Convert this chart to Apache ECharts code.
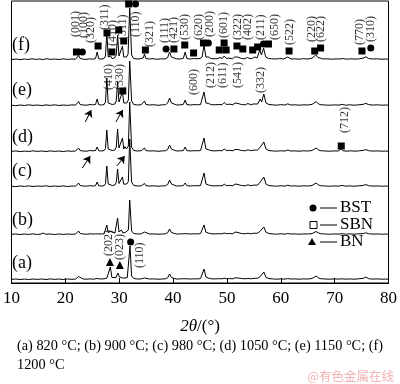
<!DOCTYPE html>
<html><head><meta charset="utf-8">
<script src="https://cdn.jsdelivr.net/npm/echarts@6/dist/echarts.min.js"></script>
<style>html,body{margin:0;padding:0;background:#fff}#c{width:400px;height:384px}</style>
</head><body><div id="c"></div>
<script>
// sample names (bottom to top)
const sampleNames = ['(a)','(b)','(c)','(d)','(e)','(f)'];
// vertical offsets of each pattern (plot units)
const offsets = [3, 48, 96, 131, 177, 223];
// patterns: [2theta, intensity above baseline]
const patA = [[10,0.6],[10.8,1],[11.6,0.5],[12.4,0.9],[13.2,0.5],[14,1],[14.8,0.6],[15.6,1],[16.4,0.5],[17.2,1.1],[18,0.6],[18.8,1],[19.6,0.5],[20.4,1],[21.2,0.7],[21.9,1],[22.2,2],[22.45,3.5],[22.75,1.5],[23.3,1],[24,0.8],[24.6,1.1],[25.2,0.8],[25.9,1.5],[26.6,1],[27.2,1.2],[27.7,1.8],[28.05,2.5],[28.35,13],[28.65,2.5],[29,2],[29.4,2.5],[29.75,7],[30.05,3],[30.3,5],[30.6,2],[31.1,2],[31.5,2.5],[31.75,4],[32.0,34],[32.3,4],[32.7,1.5],[33.4,1],[34.1,1.1],[34.45,1.4],[34.7,2],[34.95,1.2],[35.6,1],[36.4,1.1],[37.2,0.8],[38,1],[38.6,1.2],[39,2.2],[39.35,6],[39.7,2.5],[40.2,1.5],[40.7,1],[41.4,1.1],[41.9,1.3],[42.25,2.2],[42.55,1.2],[43.2,1],[43.8,1.2],[44.15,1.5],[44.5,1.1],[45.1,1.4],[45.45,3],[45.75,11],[46.1,3],[46.6,1.8],[47.1,1.2],[47.8,1.1],[48.5,1.3],[49.1,1.2],[49.5,1.8],[49.9,1.3],[50.5,1.4],[51.1,1.2],[51.5,2.2],[51.8,3],[52.05,2],[52.35,3],[52.7,1.5],[53.4,1.2],[53.9,1.6],[54.4,1.2],[54.9,1.6],[55.25,2.2],[55.7,1.8],[56.2,3.5],[56.45,3],[56.85,8],[57.25,2.8],[57.8,1.4],[58.5,1.1],[59.2,0.8],[60,1.1],[60.8,0.9],[61.3,1.4],[61.8,1],[62.6,1.1],[63.4,0.8],[64.2,1.1],[65,1],[65.8,1.5],[66.55,4],[67,2],[67.5,1.2],[68.3,1],[69.1,0.8],[70,1.1],[70.8,0.9],[71.4,1.2],[72,0.8],[72.8,1.1],[73.6,0.8],[74.5,1.2],[75.3,1.6],[75.8,3],[76.3,1.3],[77.1,0.9],[77.9,1.1],[78.7,0.8],[79.4,1],[80,0.7]];
const patB = [[10,0.7],[10.8,1],[11.6,0.5],[12.4,1],[13.2,0.6],[14,1.1],[14.8,0.5],[15.5,1],[15.9,2],[16.3,0.8],[17.2,1],[18,0.5],[18.8,1],[19.6,0.6],[20.4,1],[21.2,0.7],[21.9,1],[22.2,2],[22.45,4],[22.75,1.5],[23.3,1],[24,0.8],[24.6,1.2],[25.2,0.9],[25.6,1.2],[25.9,3],[26.2,1.1],[26.7,1],[27.2,1.3],[27.45,2.5],[27.7,10],[27.95,2.5],[28.2,2],[28.4,3.5],[28.65,1.5],[29.2,2],[29.45,4],[29.7,17],[29.95,3],[30.2,2.5],[30.4,5],[30.7,2],[31.1,2.5],[31.4,2.5],[31.7,5],[31.95,35],[32.3,4],[32.7,1.5],[33.4,1],[34.1,1.2],[34.45,1.6],[34.7,3],[34.95,1.3],[35.6,1],[36.4,1.1],[37.2,0.8],[38,1],[38.6,1.2],[39,2.3],[39.35,6],[39.7,2.5],[40.2,1.6],[40.7,1],[41.4,1.1],[41.9,1.3],[42.25,3],[42.55,1.3],[43.2,1],[43.8,1.2],[44.15,1.8],[44.5,1.1],[45.1,1.4],[45.45,2.8],[45.75,10],[46.1,2.8],[46.6,1.8],[47.1,1.2],[47.8,1.1],[48.5,1.3],[49.1,1.2],[49.5,2],[49.9,1.3],[50.5,1.5],[51.1,1.2],[51.5,3],[51.8,5],[52.05,2.5],[52.35,4],[52.7,1.5],[53.4,1.2],[53.9,1.8],[54.4,1.2],[54.9,1.7],[55.25,2.4],[55.7,1.8],[56.2,4],[56.45,3.5],[56.85,8],[57.25,2.8],[57.8,1.4],[58.5,1.1],[59.2,0.8],[60,1.2],[60.8,0.9],[61.3,1.5],[61.8,1],[62.6,1.1],[63.4,0.8],[64.2,1.1],[65,1],[65.8,1.4],[66.55,3.5],[67,2],[67.5,1.2],[68.3,1],[69.1,0.8],[70,1.1],[70.8,0.9],[71.4,1.3],[72,0.8],[72.8,1.1],[73.6,0.8],[74.5,1.2],[75.3,1.5],[75.8,2.2],[76.3,1.3],[77.1,0.9],[77.9,1.1],[78.7,0.8],[79.4,1],[80,0.7]];
const patC = [[10,0.8],[10.8,0.4],[11.6,1],[12.4,0.6],[13.2,1.1],[14,0.5],[14.8,1],[15.6,0.7],[16.4,1.2],[17.2,0.5],[18,1],[18.8,0.6],[19.6,1.1],[20.4,0.5],[21.2,1],[21.9,0.8],[22.2,2],[22.45,4],[22.75,1.5],[23.3,1],[24,0.9],[24.6,1.3],[25.2,0.9],[25.6,1.3],[25.9,5],[26.2,1.2],[26.7,1],[27.2,1.3],[27.45,3.5],[27.7,21],[27.95,3],[28.3,2.5],[28.7,1.5],[29.2,2],[29.45,4.5],[29.7,18],[29.95,3.5],[30.3,2.8],[30.6,10],[30.85,2.8],[31.1,4],[31.4,3],[31.7,5.5],[31.95,48],[32.3,5],[32.7,1.5],[33.4,1],[34.1,1.2],[34.45,1.8],[34.7,3.5],[34.95,1.4],[35.6,1],[36.4,1.2],[37.2,0.8],[38,1.1],[38.6,1.3],[39,2.5],[39.35,7],[39.7,3],[40.2,1.8],[40.7,1],[41.4,1.1],[41.9,1.4],[42.25,4],[42.55,1.4],[43.2,1],[43.8,1.3],[44.15,2.2],[44.5,1.2],[45.1,1.5],[45.45,3],[45.75,14],[46.1,3],[46.6,2],[47.1,1.3],[47.8,1.1],[48.5,1.3],[49.1,1.2],[49.5,2.8],[49.9,1.4],[50.5,1.6],[51.1,1.2],[51.5,3],[51.8,5],[52.05,2.5],[52.35,4],[52.7,1.5],[53.4,1.2],[53.9,2.2],[54.4,1.3],[54.9,1.8],[55.25,2.6],[55.7,1.9],[56.2,5],[56.45,3.5],[56.85,10],[57.25,3],[57.8,1.4],[58.5,1.1],[59.2,0.8],[60,1.2],[60.8,0.9],[61.3,1.8],[61.8,1],[62.6,1.1],[63.4,0.8],[64.2,1.2],[65,1],[65.8,1.5],[66.55,4],[67,2],[67.5,1.2],[68.3,1],[69.1,0.8],[70,1.1],[70.8,0.9],[71.4,1.6],[72,0.8],[72.8,1.1],[73.6,0.8],[74.5,1.2],[75.3,1.6],[75.8,2.4],[76.3,1.3],[77.1,0.9],[77.9,1.1],[78.7,0.8],[79.4,1],[80,0.7]];
const patD = [[10,0.6],[10.8,1.1],[11.6,0.4],[12.4,0.9],[13.2,0.5],[14,1.2],[14.8,0.6],[15.6,1],[16.4,0.5],[17.2,1.1],[18,0.6],[18.8,1],[19.6,0.5],[20.4,1.1],[21.2,0.7],[21.9,1],[22.2,2],[22.45,4],[22.75,1.5],[23.3,1],[24,0.8],[24.5,1.5],[24.75,3],[25,1.2],[25.6,1.4],[25.9,5],[26.2,1.3],[26.7,1],[27.2,1.4],[27.45,3.5],[27.7,22],[27.95,3],[28.3,2.5],[28.7,1.5],[29.2,2],[29.45,5],[29.7,23],[29.95,4],[30.3,3],[30.6,14],[30.85,3],[31.05,5.5],[31.35,3],[31.7,6],[31.95,50],[32.3,5],[32.7,1.5],[33.4,1],[34.1,1.3],[34.45,2],[34.7,4],[34.95,1.5],[35.6,1],[36.4,1.2],[37.2,0.7],[38,1.1],[38.6,1.3],[39,2.5],[39.35,7],[39.7,3],[40.2,1.8],[40.7,1],[41.4,1.2],[41.9,1.5],[42.25,5],[42.55,1.5],[43.2,1],[43.8,1.3],[44.15,2.5],[44.5,1.2],[45.1,1.5],[45.45,3],[45.75,14],[46.1,3],[46.6,2.2],[47.1,1.3],[47.8,1.1],[48.5,1.4],[49.1,1.2],[49.5,3],[49.9,1.4],[50.5,1.6],[51.1,1.2],[51.5,2.5],[51.8,4],[52.05,2.5],[52.35,3.5],[52.7,1.5],[53.4,1.2],[53.9,2.2],[54.4,1.3],[54.9,1.8],[55.25,2.8],[55.7,2],[56.2,5],[56.45,3.5],[56.85,10],[57.25,3],[57.8,1.4],[58.5,1.1],[59.2,0.8],[60,1.2],[60.8,1],[61.3,2],[61.8,1],[62.6,1.1],[63.4,0.8],[64.2,1.2],[65,1],[65.8,1.5],[66.55,4],[67,2],[67.5,1.2],[68.3,1],[69.1,0.8],[70,1.1],[70.7,1],[71.2,3],[71.6,1.2],[72.3,0.8],[73,1.2],[73.8,0.8],[74.6,1.2],[75.3,1.6],[75.8,2.4],[76.3,1.3],[77.1,0.9],[77.9,1.1],[78.7,0.8],[79.4,1],[80,0.7]];
const patE = [[10,0.8],[10.8,0.3],[11.6,1],[12.4,0.5],[13.2,1.2],[14,0.6],[14.8,1],[15.6,0.4],[16.4,1.1],[17.2,0.6],[18,1.2],[18.8,0.5],[19.6,1],[20.4,0.6],[21.2,1.1],[21.9,0.9],[22.2,2],[22.45,4.5],[22.75,1.5],[23.3,1],[24,0.8],[24.6,1.5],[24.8,2.8],[25.05,1.2],[25.6,1.4],[25.9,7],[26.2,1.3],[26.7,1],[27.2,1.5],[27.45,4],[27.7,28],[27.95,3],[28.3,2.5],[28.7,1.5],[29.2,2],[29.45,5],[29.7,24],[29.95,4],[30.3,3],[30.6,14],[30.85,3],[31.1,4.5],[31.4,3],[31.7,6],[31.95,45],[32.3,5],[32.7,1.5],[33.4,1],[34.1,1.3],[34.45,2],[34.7,5],[34.95,1.5],[35.6,1],[36.4,1.3],[37.2,0.7],[38,1.2],[38.6,1.3],[39,3],[39.35,8],[39.7,3],[40.2,2],[40.7,1],[41.4,1.2],[41.9,1.6],[42.25,6],[42.55,1.5],[43.2,1],[43.8,1.4],[44.15,2.5],[44.5,1.2],[45.1,1.5],[45.45,3],[45.75,14],[46.1,3],[46.6,2.5],[47.1,1.3],[47.8,1.2],[48.5,1.5],[49.1,1.3],[49.5,3.5],[49.9,1.5],[50.5,1.8],[51.1,1.2],[51.5,3],[51.8,4.5],[52.05,2.5],[52.35,4],[52.7,1.5],[53.4,1.2],[53.9,2.5],[54.4,1.3],[54.9,2],[55.25,3],[55.7,2],[56.2,7],[56.45,4],[56.85,12],[57.25,3],[57.8,1.5],[58.5,1.2],[59.2,0.8],[60,1.3],[60.8,1],[61.3,2.2],[61.8,1],[62.6,1.2],[63.4,0.8],[64.2,1.2],[65,1],[65.8,1.6],[66.55,4.5],[67,2],[67.5,1.2],[68.3,1],[69.1,0.8],[70,1.1],[70.8,0.9],[71.4,1.6],[72,0.8],[72.8,1.2],[73.6,0.8],[74.5,1.2],[75.3,1.7],[75.8,2.6],[76.3,1.4],[77.1,0.9],[77.9,1.2],[78.7,0.8],[79.4,1],[80,0.8]];
const patF = [[10,0.5],[11,1],[11.6,0.3],[12.4,1],[13,0.5],[13.8,1.2],[14.5,0.6],[15.2,1],[15.8,0.4],[16.5,1.3],[17.2,0.6],[18,1],[18.8,0.5],[19.6,1.1],[20.4,0.6],[21.2,1],[21.9,0.8],[22.2,2],[22.45,4.5],[22.75,1.5],[23.2,1],[23.8,0.5],[24.5,1.2],[25.1,0.8],[25.6,1.4],[25.9,8],[26.2,1.2],[26.6,0.9],[27.2,1.5],[27.45,4],[27.7,28],[27.95,3],[28.2,2],[28.4,4],[28.65,1.5],[29.1,2],[29.45,5],[29.7,25],[29.95,4],[30.3,3],[30.6,14],[30.85,3],[31.1,5],[31.35,3],[31.65,6],[31.95,52],[32.3,5],[32.7,1.5],[33.3,1],[34,1.3],[34.45,2],[34.7,6],[34.95,1.5],[35.6,1],[36.3,1.3],[37,0.7],[37.8,1.2],[38.5,1],[39,2.5],[39.35,8],[39.7,3],[40.2,2],[40.6,1.2],[41.3,1],[41.9,1.6],[42.25,8],[42.55,1.5],[43.2,1],[43.8,1.5],[44.1,3.5],[44.4,1.2],[45,1.5],[45.4,3],[45.75,15],[46.1,3],[46.6,3],[47,1.5],[47.6,1.2],[48.3,1.5],[48.7,2.5],[49.1,1.5],[49.5,4],[49.9,1.5],[50.4,2],[51,1.2],[51.45,3],[51.75,5],[52,3],[52.3,4.5],[52.7,1.5],[53.3,1.2],[53.8,2.5],[54.3,1.3],[54.8,1.8],[55.2,3],[55.6,2],[56.1,10],[56.4,5],[56.8,12],[57.2,3],[57.7,1.5],[58.3,1.2],[59,1],[59.8,1.4],[60.5,1],[61.3,3],[61.9,1],[62.6,1.2],[63.4,0.8],[64.2,1.3],[65,1],[65.8,1.8],[66.5,5],[66.9,2.5],[67.3,2],[67.8,1],[68.6,1.2],[69.4,0.8],[70.2,1.1],[71,1],[71.4,1.5],[72.2,0.8],[73,1.2],[73.8,0.9],[74.6,1.2],[75.3,1.8],[75.8,3.2],[76.3,1.5],[77,1],[77.8,1.2],[78.6,0.8],[79.4,1],[80,0.8]];
const patterns = [patA, patB, patC, patD, patE, patF];

// phase markers: [2theta, y]
const bstMarks = [[23.16,231],[33.03,279],[38.70,234],[46.56,240],[56.79,239],[76.71,235],[32.12,41]];
const sbnMarks = [[22.06,231],[26.08,237],[27.73,250],[28.64,231],[29.92,253],[30.84,242],[31.75,279],[34.86,233],[40.16,234],[42.17,238],[43.81,230],[45.64,240],[48.57,233],[49.48,240],[49.85,233],[51.86,237],[52.95,234],[54.78,233],[55.69,236],[57.71,239],[61.54,232],[66.30,232],[67.39,235],[75.07,232],[30.66,192],[71.23,137]];
const bnMarks = [[28.28,21],[30.11,18]];
// Miller index labels: [2theta, y of text start, text]
const hklLabels = [
 [21.9,246,'(001)'],[23.35,245,'(100)'],[24.65,240,'(320)'],[27.4,253,'(311)'],[28.85,237,'(410)'],[30.65,243,'(311)'],[33.0,246,'(110)'],[35.6,236,'(321)'],[38.5,240,'(111)'],[40.16,240,'(421)'],[42.17,243,'(530)'],[44.7,243,'(620)'],[46.9,246,'(200)'],[49.5,245,'(601)'],[52.05,243,'(322)'],[53.9,243,'(402)'],[56.25,243,'(211)'],[58.95,243,'(650)'],[61.72,238,'(522)'],[65.75,241,'(220)'],[67.4,241,'(622)'],[74.7,238,'(770)'],[76.71,241,'(310)'],
 [43.8,188,'(600)'],[47.1,195,'(212)'],[49.3,195,'(611)'],[52.05,195,'(541)'],[56.25,190,'(332)'],
 [28.1,193,'(410)'],[30.1,193,'(330)'],
 [71.96,150,'(712)'],
 [28.1,27,'(202)'],[30.1,23,'(023)'],[33.76,15,'(110)']
];
// arrows marking weak peaks: [x1,y1,x2,y2]
const arrows = [[23.71,161,24.81,173],[29.38,161,30.65,173],[23.16,115,24.62,127],[29.56,117,31.02,127]];
const caption1 = '(a) 820 °C; (b) 900 °C; (c) 980 °C; (d) 1050 °C; (e) 1150 °C; (f)';
const caption2 = '1200 °C';
const sampleLabelY = [264, 221, 172, 138, 91, 46];

const chart = echarts.init(document.getElementById('c'), null, {renderer:'canvas'});
const serif = '"Liberation Serif","Times New Roman",serif';
const series = patterns.map((p, i) => ({
  type:'line', data: p.map(d => [d[0], d[1] + offsets[i]]), showSymbol:false, symbol:'none',
  lineStyle:{color:'#000', width:1}, silent:true, z:2, clip:true
}));
series[0].markLine = {
  silent:true, symbol:['none','arrow'], symbolSize:7, animation:false,
  lineStyle:{color:'#000', width:1, type:'solid'}, label:{show:false},
  data: arrows.map(a => [{coord:[a[0],a[1]]},{coord:[a[2],a[3]]}])
};
const mk = {color:'#000', opacity:1};
series.push({type:'scatter', data:bstMarks, symbol:'circle', symbolSize:7, itemStyle:mk, silent:true, z:5});
series.push({type:'scatter', data:sbnMarks, symbol:'rect', symbolSize:7, itemStyle:mk, silent:true, z:5});
series.push({type:'scatter', data:bnMarks, symbol:'triangle', symbolSize:8, itemStyle:mk, silent:true, z:5});
series.push({type:'scatter', silent:true, z:6, symbolSize:0.1, itemStyle:{color:'rgba(0,0,0,0)'},
  data: hklLabels.map(l => ({value:[l[0], l[1]], name:l[2]})),
  label:{show:true, position:'inside', rotate:90, align:'left', verticalAlign:'middle',
    formatter: p => p.name, color:'#000', fontFamily:serif, fontSize:12}
});

const graphics = sampleNames.map((s, i) => ({type:'text', left:12, top:sampleLabelY[i]-10,
  style:{text:s, font:'18px '+serif, fill:'#000'}}));
const legendItems = [['BST',208,'circle'],['SBN',225,'square'],['BN',242,'tri']];
legendItems.forEach(it => {
  const y = it[1];
  if (it[2]==='circle') graphics.push({type:'circle', shape:{cx:313, cy:y, r:3.5}, style:{fill:'#000'}});
  if (it[2]==='square') graphics.push({type:'rect', shape:{x:310, y:y-3.5, width:7, height:7}, style:{fill:'#fff', stroke:'#000', lineWidth:1}});
  if (it[2]==='tri') graphics.push({type:'polygon', shape:{points:[[312,y-4],[316,y+3],[308,y+3]]}, style:{fill:'#000'}});
  graphics.push({type:'line', shape:{x1:320, y1:y, x2:337, y2:y}, style:{stroke:'#000', lineWidth:1}});
  graphics.push({type:'text', left:340, top:y-9, style:{text:it[0], font:'17px '+serif, fill:'#000'}});
});
graphics.push({type:'text', left:17, top:339, style:{text:caption1, font:'14.3px '+serif, fill:'#000'}});
graphics.push({type:'text', left:17, top:358, style:{text:caption2, font:'14.3px '+serif, fill:'#000'}});
graphics.push({type:'text', right:6, top:370, style:{text:'@有色金属在线', font:'12.5px "Noto Sans CJK SC",sans-serif', fill:'#f2b3b3'}});

chart.setOption({
  animation:false,
  backgroundColor:'#fff',
  grid:{left:7, right:9, top:1, bottom:101, show:true, borderColor:'#000', borderWidth:1, containLabel:false},
  xAxis:{type:'value', min:10, max:80, interval:10,
    axisLine:{lineStyle:{color:'#000', width:1}}, axisTick:{inside:true, length:5, lineStyle:{color:'#000'}},
    splitLine:{show:false},
    axisLabel:{color:'#000', fontFamily:serif, fontSize:17, margin:7},
    name:'{i|2θ}{n|/(°)}', nameLocation:'middle', nameGap:35,
    nameTextStyle:{rich:{i:{fontFamily:serif, fontSize:17, fontStyle:'italic', color:'#000'}, n:{fontFamily:serif, fontSize:17, color:'#000'}}}
  },
  yAxis:{type:'value', min:0, max:282, show:false, splitLine:{show:false}},
  series: series,
  graphic: graphics
});
</script></body></html>
